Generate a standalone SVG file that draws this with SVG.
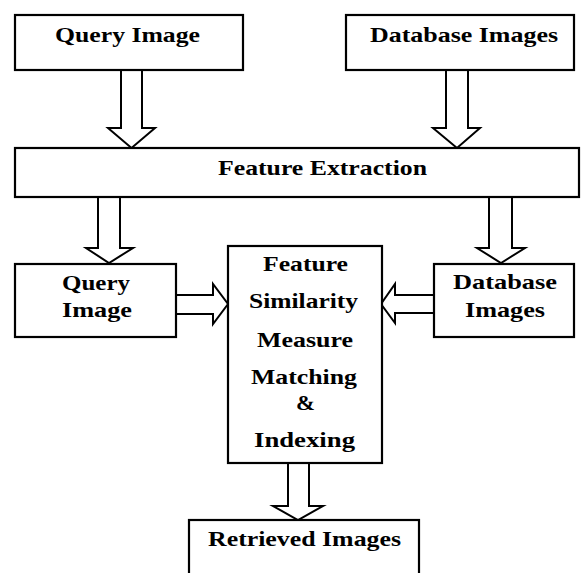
<svg xmlns="http://www.w3.org/2000/svg" width="581" height="573" viewBox="0 0 581 573">
<style>
.box{fill:#fff;stroke:#000;stroke-width:2.2}
.arr{fill:#fff;stroke:#000;stroke-width:2;stroke-linejoin:miter}
text{font-family:"Liberation Serif","Times New Roman",serif;font-weight:bold;font-size:22px;fill:#000}
</style>
<rect width="581" height="573" fill="#fff"/>
<g id="connectors">
<polygon class="arr" points="121,70 142,70 142,128 155,128 131.5,148 108,128 121,128"/>
<polygon class="arr" points="446,70 468,70 468,128 480,128 457,148 433,128 446,128"/>
<polygon class="arr" points="98,197 120,197 120,248 133,248 109,263 86,248 98,248"/>
<polygon class="arr" points="489,197 512,197 512,248 525,248 501,263 477,248 489,248"/>
<polygon class="arr" points="176,295 213,295 213,284 228,304 213,324 213,314 176,314"/>
<polygon class="arr" points="434,295 395,295 395,284 381,304 395,323 395,313 434,313"/>
<polygon class="arr" points="288,463 309,463 309,506 323,506 298,520 273,506 288,506"/>
</g>
<g id="query-image">
<rect class="box" x="15" y="15" width="228" height="55"/>
<text x="55" y="42" textLength="145" lengthAdjust="spacingAndGlyphs">Query Image</text>
</g>
<g id="database-images">
<rect class="box" x="346" y="15" width="228" height="55"/>
<text x="370" y="42" textLength="188" lengthAdjust="spacingAndGlyphs">Database Images</text>
</g>
<g id="feature-extraction">
<rect class="box" x="15" y="148" width="564" height="49"/>
<text x="218" y="175" textLength="209" lengthAdjust="spacingAndGlyphs">Feature Extraction</text>
</g>
<g id="query-image-2">
<rect class="box" x="15" y="264" width="161" height="73"/>
<text x="62" y="290" textLength="68" lengthAdjust="spacingAndGlyphs">Query</text>
<text x="62" y="317" textLength="70" lengthAdjust="spacingAndGlyphs">Image</text>
</g>
<g id="database-images-2">
<rect class="box" x="434" y="264" width="140" height="73"/>
<text x="453" y="289" textLength="104" lengthAdjust="spacingAndGlyphs">Database</text>
<text x="465" y="317" textLength="80" lengthAdjust="spacingAndGlyphs">Images</text>
</g>
<g id="matching">
<rect class="box" x="228" y="246" width="154" height="217"/>
<text x="263" y="271" textLength="85" lengthAdjust="spacingAndGlyphs">Feature</text>
<text x="249" y="308" textLength="109" lengthAdjust="spacingAndGlyphs">Similarity</text>
<text x="257" y="347" textLength="96" lengthAdjust="spacingAndGlyphs">Measure</text>
<text x="251" y="384" textLength="106" lengthAdjust="spacingAndGlyphs">Matching</text>
<text x="296" y="409.5" textLength="19" lengthAdjust="spacingAndGlyphs">&amp;</text>
<text x="254" y="447" textLength="101" lengthAdjust="spacingAndGlyphs">Indexing</text>
</g>
<g id="retrieved-images">
<rect class="box" x="189" y="520" width="230" height="70"/>
<text x="208" y="546" textLength="193" lengthAdjust="spacingAndGlyphs">Retrieved Images</text>
</g>
</svg>
